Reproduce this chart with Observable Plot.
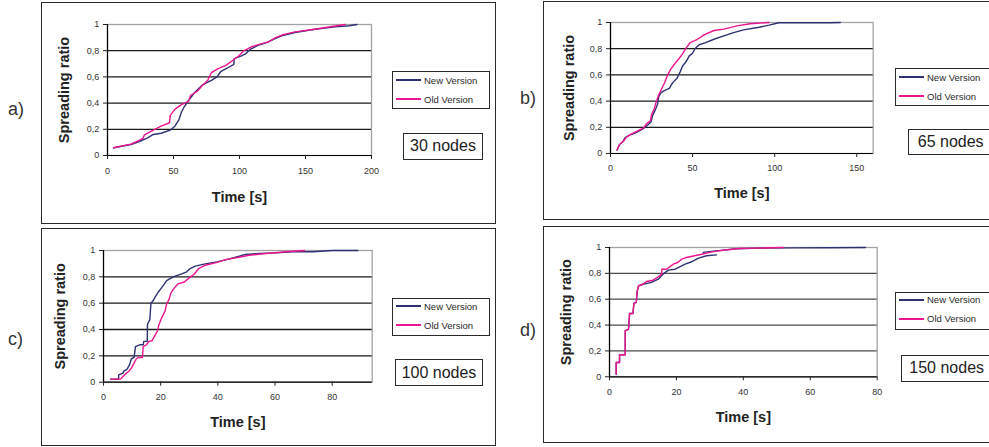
<!DOCTYPE html>
<html>
<head>
<meta charset="utf-8">
<script src="https://cdn.jsdelivr.net/npm/d3@7"></script>
<script src="https://cdn.jsdelivr.net/npm/@observablehq/plot@0.6"></script>
<style>
  html, body { margin: 0; padding: 0; background: #fff; }
  body { width: 989px; height: 447px; overflow: hidden; position: relative;
         font-family: "Liberation Sans", Arial, sans-serif; color: #222; }
  .frame { position: absolute; border: 1.4px solid #2a2a2a; box-sizing: border-box; }
  .chart { position: absolute; }
  .legend { position: absolute; border: 1.3px solid #2a2a2a; background: #fff; box-sizing: border-box; }
  .legend .row { position: absolute; left: 3px; height: 12px; display: flex; align-items: center;
                 font-size: 9.5px; color: #2a2a2a; white-space: nowrap; }
  .legend .sw { display: inline-block; width: 25px; height: 2px; margin-right: 3px; }
  .nodes { position: absolute; border: 1.3px solid #2a2a2a; background: #fff; box-sizing: border-box;
           display: flex; align-items: center; justify-content: center; font-size: 16px; color: #222; }
  .letter { position: absolute; font-size: 18px; color: #333; line-height: 1; }
</style>
</head>
<body>
<script>
// ---------------- data ----------------
const panelLetters = ["a)", "b)", "c)", "d)"];
const nodeLabels = ["30 nodes", "65 nodes", "100 nodes", "150 nodes"];
const seriesNames = ["New Version", "Old Version"];
const yLabel = "Spreading ratio";
const xLabel = "Time [s]";
const yTicks = [0, 0.2, 0.4, 0.6, 0.8, 1];
const xTicksA = [0, 50, 100, 150, 200];
const xTicksB = [0, 50, 100, 150];
const xTicksC = [0, 20, 40, 60, 80];
const xTicksD = [0, 20, 40, 60, 80];
const xMaxA = 200, xMaxB = 160, xMaxC = 94, xMaxD = 80;

const newA = [[4.6,0.059],[17.8,0.084],[24,0.107],[30.5,0.135],[34,0.158],[40.6,0.17],[48,0.196],[51,0.224],[54,0.27],[56,0.33],[58,0.37],[61.4,0.42],[66,0.48],[72,0.54],[78.7,0.574],[83,0.6],[86,0.643],[91,0.668],[95.7,0.696],[96,0.74],[101.5,0.76],[105,0.778],[108,0.81],[114,0.84],[120.5,0.862],[127,0.893],[132,0.913],[142,0.939],[157,0.964],[172.6,0.982],[183,0.99],[189,1.0]];
const oldA = [[4.6,0.059],[17.8,0.087],[24,0.115],[27,0.133],[28,0.158],[34,0.19],[40.6,0.224],[47,0.25],[47.5,0.306],[51,0.352],[56,0.388],[61.4,0.413],[63,0.46],[68,0.49],[72,0.536],[76,0.574],[78.7,0.633],[83.8,0.663],[90,0.69],[95,0.727],[100,0.765],[102.8,0.796],[109,0.83],[115.5,0.85],[122,0.867],[127,0.898],[133,0.923],[142,0.944],[157,0.964],[170,0.985],[180,1.0]];

const newB = [[4,0.026],[5.5,0.069],[7.5,0.089],[8.9,0.122],[11.5,0.14],[14.6,0.153],[17.6,0.173],[20.2,0.191],[22.7,0.217],[24.7,0.242],[25.7,0.293],[27.1,0.327],[28.7,0.378],[29.4,0.434],[30.8,0.464],[32.8,0.48],[35.8,0.497],[37.9,0.541],[40.5,0.574],[42.5,0.625],[43.9,0.668],[46,0.7],[48,0.745],[50,0.765],[51.4,0.8],[54,0.83],[58,0.847],[63,0.872],[69,0.898],[75,0.923],[81,0.944],[90.5,0.964],[96.6,0.98],[102.6,0.998],[118,0.998],[134,0.998],[140,1.0]];
const oldB = [[4,0.026],[5.5,0.069],[8.1,0.097],[9.5,0.122],[12.6,0.148],[16.6,0.173],[20.2,0.196],[21.7,0.224],[24.3,0.25],[25.1,0.3],[26.7,0.344],[27.7,0.388],[29.1,0.439],[30.8,0.485],[32.8,0.536],[34.4,0.587],[36.4,0.638],[38.9,0.681],[41.9,0.727],[43.9,0.76],[46,0.804],[48.6,0.847],[53,0.872],[57,0.906],[63,0.939],[69,0.949],[77,0.974],[85,0.99],[96.6,1.0]];

const newC = [[2.5,0.023],[5.3,0.023],[5.3,0.056],[6.8,0.069],[7.2,0.086],[8.3,0.1],[9.2,0.137],[9.75,0.178],[10.7,0.188],[11.2,0.27],[12.7,0.284],[13.9,0.284],[14.1,0.31],[15.3,0.31],[15.4,0.44],[16.2,0.475],[16.6,0.6],[17.4,0.62],[18.2,0.652],[19.2,0.685],[20.3,0.716],[21.3,0.746],[22.1,0.772],[23.3,0.787],[25,0.805],[27.4,0.822],[29.1,0.838],[30.3,0.863],[32.1,0.881],[35.6,0.898],[39.7,0.914],[42.7,0.929],[46.2,0.949],[49.7,0.97],[54.4,0.977],[60.3,0.982],[66.2,0.99],[73.2,0.99],[80.3,1.0],[89,1.0]];
const oldC = [[2.5,0.023],[6,0.023],[6.8,0.043],[7.6,0.061],[8.8,0.081],[9.75,0.107],[10.7,0.145],[11.5,0.178],[12.3,0.188],[13.6,0.188],[13.9,0.27],[15,0.284],[15.9,0.31],[17,0.315],[18,0.355],[18.9,0.39],[19.4,0.437],[20.3,0.487],[21.5,0.538],[22.1,0.594],[22.9,0.627],[23.6,0.678],[24.8,0.716],[26,0.746],[28.3,0.761],[30,0.792],[31.8,0.822],[33.3,0.863],[35.6,0.888],[39.1,0.906],[42.7,0.931],[47.4,0.949],[50.9,0.964],[56.8,0.977],[63.8,0.99],[70.3,1.0]];

const newD = [[2,0.02],[2,0.11],[3,0.11],[3,0.17],[4.7,0.17],[4.7,0.356],[5.7,0.369],[6,0.49],[7,0.49],[7.3,0.567],[8,0.575],[8.3,0.665],[8.7,0.704],[10,0.716],[12.5,0.73],[14.6,0.755],[16,0.794],[17.6,0.825],[19.6,0.832],[21,0.85],[22.6,0.871],[24.6,0.89],[26.6,0.918],[29,0.936],[32,0.943]];
const newDTail = [[28,0.962],[31,0.972],[34,0.98],[38,0.99],[45,0.995],[55,0.997],[65,0.998],[76.5,1.0]];
const oldD = [[2,0.02],[2,0.11],[3,0.11],[3,0.17],[4.7,0.17],[4.7,0.356],[5.7,0.369],[6,0.49],[7,0.49],[7.3,0.567],[8,0.575],[8.3,0.665],[8.7,0.704],[10,0.716],[11,0.737],[13,0.747],[14.6,0.773],[15.6,0.794],[15.6,0.832],[17,0.832],[18,0.85],[19,0.871],[20.4,0.884],[21.6,0.91],[23,0.923],[25.4,0.936],[27.6,0.948],[30.6,0.966],[34,0.979],[38.7,0.992],[43.7,0.995],[52,1.0]];

// ---------------- styles / layout ----------------
const NAVY = "#2e3272";
const MAGENTA = "#ee1590";
const M = {l: 64, r: 12, t: 10, b: 58};

const panels = [
  {letter: 0, xTicks: xTicksA, xMax: xMaxA, news: [newA], old: oldA,
   plot: {x: 106.7, y: 24, w: 264, h: 131}, grid: "#1a1a1a",
   yLab: 48.7, xLab: 46, xPad: 8.5,
   frame: {x: 41, y: 2, w: 455, h: 222},
   legend: {x: 392, y: 71, w: 98, h: 38, r1: 9, r2: 28},
   nodes: {x: 403, y: 133, w: 80, h: 26.5},
   let: {x: 8, y: 100}},
  {letter: 1, xTicks: xTicksB, xMax: xMaxB, news: [newB], old: oldB,
   plot: {x: 610, y: 21.7, w: 262.7, h: 131}, grid: "#1a1a1a",
   yLab: 47.3, xLab: 44.6, xPad: 6.8,
   frame: {x: 543, y: 1, w: 460, h: 219},
   legend: {x: 895, y: 68, w: 110, h: 38, r1: 9, r2: 28},
   nodes: {x: 907.7, y: 129.3, w: 86, h: 26},
   let: {x: 520, y: 89}},
  {letter: 2, xTicks: xTicksC, xMax: xMaxC, news: [newC], old: oldC,
   plot: {x: 103.3, y: 250, w: 268.7, h: 131.7}, grid: "#1a1a1a",
   yLab: 49.3, xLab: 45, xPad: 7.6,
   frame: {x: 41, y: 228, w: 455, h: 218},
   legend: {x: 392, y: 298, w: 98, h: 38, r1: 8.7, r2: 27.7},
   nodes: {x: 395, y: 359, w: 88, h: 27},
   let: {x: 8, y: 330}},
  {letter: 3, xTicks: xTicksD, xMax: xMaxD, news: [newD, newDTail], old: oldD,
   plot: {x: 609, y: 246.7, w: 267.7, h: 129.3}, grid: "#4a4a4a",
   yLab: 49, xLab: 45.7, xPad: 7.7,
   frame: {x: 543, y: 226, w: 460, h: 216.5},
   legend: {x: 895, y: 291.7, w: 110, h: 38.3, r1: 8.3, r2: 27.3},
   nodes: {x: 900.7, y: 355, w: 92, h: 26.7},
   let: {x: 520, y: 321}}
];

function fmtY(d) { return String(d).replace(".", ","); }

function addDiv(cls, css, html) {
  const el = document.createElement("div");
  el.className = cls;
  Object.assign(el.style, css);
  if (html != null) el.innerHTML = html;
  document.body.appendChild(el);
  return el;
}

for (const p of panels) {
  addDiv("frame", {left: p.frame.x + "px", top: p.frame.y + "px", width: p.frame.w + "px", height: p.frame.h + "px"});

  const lineMarks = [];
  for (const seg of p.news) {
    lineMarks.push(Plot.line(seg, {x: d => d[0], y: d => d[1], stroke: NAVY, strokeWidth: 1.4}));
  }
  lineMarks.push(Plot.line(p.old, {x: d => d[0], y: d => d[1], stroke: MAGENTA, strokeWidth: 1.4}));

  const svg = Plot.plot({
    width: p.plot.w + M.l + M.r,
    height: p.plot.h + M.t + M.b,
    marginLeft: M.l, marginRight: M.r, marginTop: M.t, marginBottom: M.b,
    x: {domain: [p.xTicks[0], p.xMax]},
    y: {domain: [yTicks[0], yTicks[yTicks.length - 1]]},
    style: {fontFamily: "'Liberation Sans', Arial, sans-serif", background: "transparent", overflow: "visible"},
    marks: [
      Plot.frame({stroke: "#a3a3a3", strokeWidth: 1.3}),
      Plot.ruleY(yTicks.slice(1, -1), {stroke: p.grid, strokeWidth: 1.3}),
      Plot.ruleX([p.xTicks[0]], {stroke: "#000", strokeWidth: 1.2}),
      Plot.ruleY([yTicks[0]], {stroke: "#000", strokeWidth: 1.2}),
      Plot.axisY({ticks: yTicks, tickSize: 4, tickPadding: 4.3, tickFormat: fmtY, fontSize: 9, fill: "#333", label: null}),
      Plot.axisX({ticks: p.xTicks, tickSize: 4, tickPadding: p.xPad, tickFormat: d => String(d), fontSize: 9, fill: "#333", label: null}),
      Plot.text([yLabel], {text: d => d, frameAnchor: "left", textAnchor: "middle", dx: -p.yLab, rotate: -90, lineAnchor: "top",
                           fontSize: 14.5, fontWeight: "bold", fill: "#222"}),
      Plot.text([xLabel], {text: d => d, frameAnchor: "bottom", textAnchor: "middle", dy: p.xLab, lineAnchor: "bottom",
                           fontSize: 14.5, fontWeight: "bold", fill: "#222"}),
      ...lineMarks
    ]
  });
  const wrap = addDiv("chart", {left: (p.plot.x - M.l) + "px", top: (p.plot.y - M.t) + "px"});
  wrap.appendChild(svg);

  const lg = addDiv("legend", {left: p.legend.x + "px", top: p.legend.y + "px", width: p.legend.w + "px", height: p.legend.h + "px"});
  [[seriesNames[0], NAVY, p.legend.r1], [seriesNames[1], MAGENTA, p.legend.r2]].forEach(([name, col, ry]) => {
    const row = document.createElement("div");
    row.className = "row";
    row.style.top = Math.round(ry - 6 - 1.3) + "px";
    row.innerHTML = `<span class="sw" style="background:${col}"></span><span>${name}</span>`;
    lg.appendChild(row);
  });

  addDiv("nodes", {left: p.nodes.x + "px", top: p.nodes.y + "px", width: p.nodes.w + "px", height: p.nodes.h + "px"}, nodeLabels[p.letter]);
  addDiv("letter", {left: p.let.x + "px", top: p.let.y + "px"}, panelLetters[p.letter]);
}
</script>
</body>
</html>
